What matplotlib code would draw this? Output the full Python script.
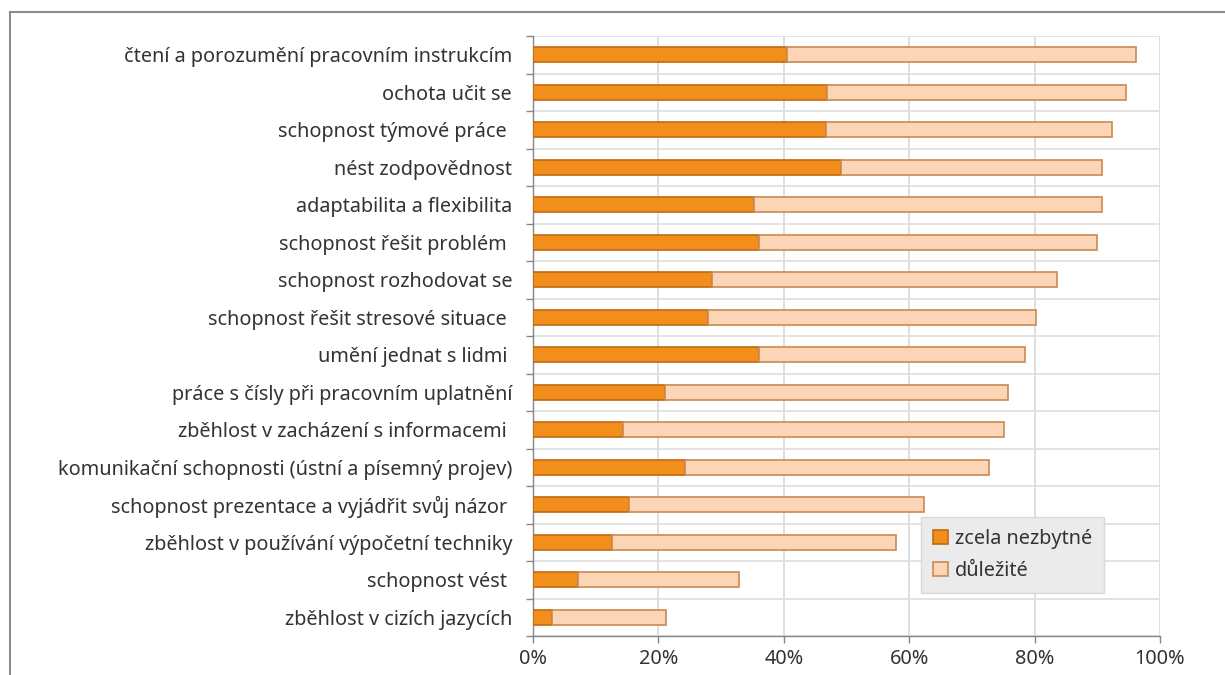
import matplotlib
matplotlib.use("Agg")
import matplotlib.pyplot as plt
import numpy as np
from matplotlib.lines import Line2D

categories = [
    "čtení a porozumění pracovním instrukcím",
    "ochota učit se",
    "schopnost týmové práce ",
    "nést zodpovědnost",
    "adaptabilita a flexibilita",
    "schopnost řešit problém ",
    "schopnost rozhodovat se",
    "schopnost řešit stresové situace ",
    "umění jednat s lidmi ",
    "práce s čísly při pracovním uplatnění",
    "zběhlost v zacházení s informacemi ",
    "komunikační schopnosti (ústní a písemný projev)",
    "schopnost prezentace a vyjádřit svůj názor ",
    "zběhlost v používání výpočetní techniky",
    "schopnost vést ",
    "zběhlost v cizích jazycích",
]
zcela_nezbytne = [40.5, 46.9, 46.7, 49.2, 35.2, 36.1, 28.5, 27.9, 36.1, 21.0, 14.4, 24.3, 15.3, 12.6, 7.2, 3.0]
dulezite = [55.6, 47.6, 45.7, 41.6, 55.6, 53.9, 55.1, 52.3, 42.4, 54.7, 60.7, 48.5, 47.1, 45.3, 25.6, 18.2]
series_names = ["zcela nezbytné", "důležité"]
x_ticks = [0, 20, 40, 60, 80, 100]
x_tick_labels = ["0%", "20%", "40%", "60%", "80%", "100%"]

plt.rcParams['font.family'] = ['Noto Sans', 'DejaVu Sans']
text_color = "#333333"
fs = 14.3

fig = plt.figure(figsize=(12.25, 6.75), dpi=100)
ax = fig.add_axes([533/1225, 1-636/675, (1160-533)/1225, (636-36)/675])

y = np.arange(len(categories))
dark_c, dark_e = "#F28E1C", "#C06A10"
light_c, light_e = "#FBD5B5", "#C98A52"
ax.barh(y, zcela_nezbytne, height=0.4, color=dark_c, edgecolor=dark_e, linewidth=1.2,
        label=series_names[0], zorder=3)
ax.barh(y, dulezite, left=zcela_nezbytne, height=0.4, color=light_c, edgecolor=light_e,
        linewidth=1.2, label=series_names[1], zorder=3)

ax.set_xlim(0, 100)
ax.set_ylim(len(categories) - 0.5, -0.5)
ax.set_yticks(y)
ax.set_yticklabels(categories, fontsize=fs, color=text_color)
ax.set_yticks(np.arange(-0.5, len(categories), 1.0), minor=True)
ax.tick_params(axis='y', which='major', length=0, pad=15)
ax.tick_params(axis='y', which='minor', length=5, color="#868686", width=1)
ax.set_xticks(x_ticks)
ax.set_xticklabels(x_tick_labels, fontsize=fs, color=text_color)
ax.tick_params(axis='x', which='major', length=5, color="#868686", width=1, pad=4)

ax.grid(axis='x', which='major', color="#D9D9D9", linewidth=1.2, zorder=0)
ax.grid(axis='y', which='minor', color="#DEDEDE", linewidth=1.2, zorder=0)
ax.set_axisbelow(True)
for s in ['top', 'right']:
    ax.spines[s].set_visible(False)
for s in ['left', 'bottom']:
    ax.spines[s].set_color("#868686")
    ax.spines[s].set_linewidth(1)

leg = ax.legend(loc='upper left', bbox_to_anchor=((921-533)/627, 1-(517-36)/600),
                fontsize=fs, frameon=True, fancybox=False, handlelength=0.75,
                handleheight=0.75, handletextpad=0.35, borderpad=0.6, labelspacing=0.6,
                borderaxespad=0)
leg.get_frame().set_facecolor("#EBEBEB")
leg.get_frame().set_edgecolor("#D9D9D9")
leg.get_frame().set_alpha(1)
for t in leg.get_texts():
    t.set_color(text_color)

# outer chart border (top and left visible)
fig.add_artist(Line2D([10/1225, 1.0], [1-12/675, 1-12/675], transform=fig.transFigure,
                      color="#8C8C8C", linewidth=1.5))
fig.add_artist(Line2D([10/1225, 10/1225], [0, 1-12/675], transform=fig.transFigure,
                      color="#8C8C8C", linewidth=1.5))

fig.savefig("out.png", dpi=100)
